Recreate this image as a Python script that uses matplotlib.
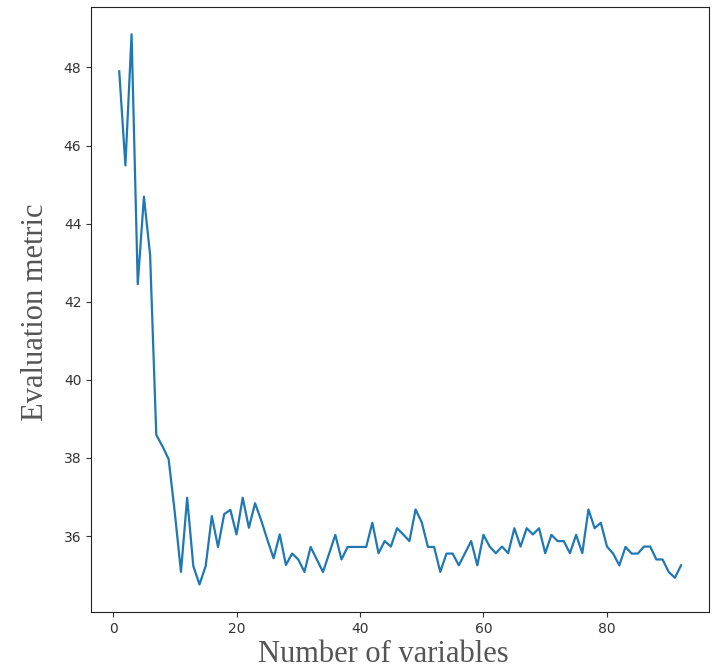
import numpy as np
import matplotlib
matplotlib.use('Agg')
import matplotlib.pyplot as plt

# Evaluation metric for each number of variables kept (1..92)
n_vars = np.arange(1, 93)
metric = [
    47.90, 45.49, 48.85, 42.45, 44.69, 43.20, 38.59, 38.30, 37.97, 36.60,
    35.08, 36.98, 35.23, 34.76, 35.23, 36.51, 35.72, 36.56, 36.67, 36.04,
    36.98, 36.21, 36.84, 36.40, 35.90, 35.43, 36.04, 35.26, 35.55, 35.40,
    35.08, 35.72, 35.40, 35.08, 35.55, 36.03, 35.40, 35.72, 35.72, 35.72,
    35.72, 36.34, 35.56, 35.87, 35.73, 36.20, 36.04, 35.87, 36.68, 36.35,
    35.72, 35.72, 35.08, 35.55, 35.55, 35.25, 35.56, 35.87, 35.25, 36.03,
    35.73, 35.56, 35.73, 35.56, 36.20, 35.73, 36.20, 36.04, 36.20, 35.56,
    36.03, 35.87, 35.87, 35.56, 36.03, 35.56, 36.68, 36.20, 36.34, 35.73,
    35.55, 35.25, 35.72, 35.55, 35.55, 35.73, 35.73, 35.40, 35.40, 35.08,
    34.93, 35.25,
]

fig = plt.figure(figsize=(7.12, 6.71), dpi=100)
ax = fig.add_axes([0.128, 0.088, 0.868, 0.902])
ax.plot(n_vars, metric, color='#1f77b4', linewidth=1.6)

ax.set_xticks([0, 20, 40, 60, 80])
ax.set_yticks([36, 38, 40, 42, 44, 46, 48])
ax.tick_params(labelsize=10, colors='#333333')
for s in ax.spines.values():
    s.set_color('#222222')

label_font = dict(family='Liberation Serif', size=22, color='#555555')
ax.set_xlabel('Number of variables', **label_font)
ax.set_ylabel('Evaluation metric', **label_font)
ax.xaxis.set_label_coords(0.473, -0.046, transform=ax.transAxes)
ax.yaxis.set_label_coords(-0.066, 0.495, transform=ax.transAxes)

fig.savefig('out.png', dpi=100)
